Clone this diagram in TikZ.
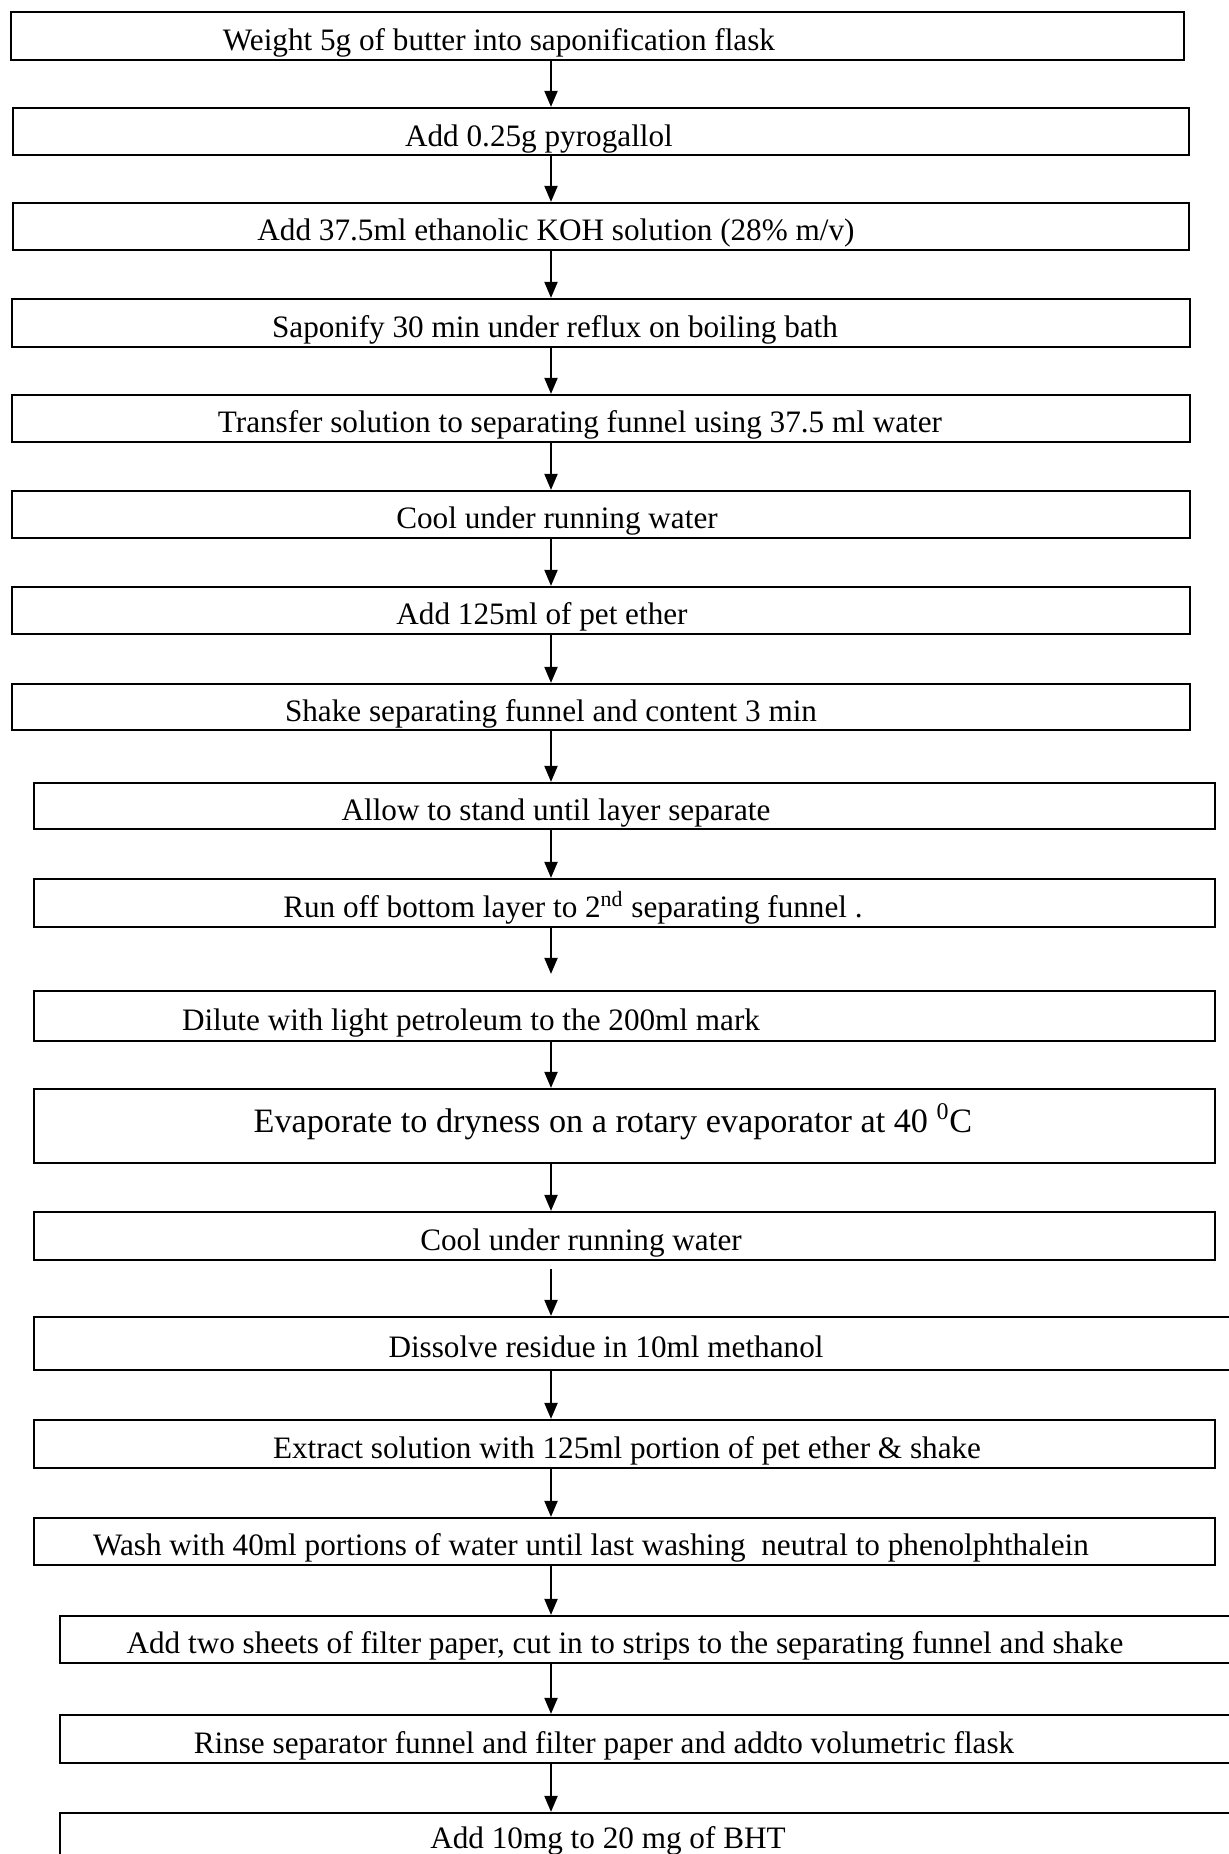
\documentclass[tikz,border=0pt]{standalone}
\usepackage{fontspec}
\setmainfont{Liberation Serif}
\usetikzlibrary{arrows.meta,fit}
\tikzset{
  stepbox/.style={draw, line width=1.1pt, inner sep=0pt},
  steptext/.style={anchor=base, inner sep=0pt, font=\fontsize{15.6}{18}\selectfont},
  bigtext/.style={anchor=base, inner sep=0pt, font=\fontsize{17.1}{20}\selectfont},
  flow/.style={line width=1pt, -{Triangle[length=8pt,width=6.5pt]}}
}
\begin{document}
\begin{tikzpicture}[x=0.5pt, y=-0.5pt]
\useasboundingbox (0,0) rectangle (1229,1854);
\clip (0,0) rectangle (1229,1854);
\fill[white] (0,0) rectangle (1229,1854);
\coordinate (ax) at (551,0);
\node[stepbox, fit={(11,12) (1184,60)}] (bx1) {};
\node[steptext] (tx1) at (499,50) {Weight 5g of butter into saponification flask};
\node[stepbox, fit={(13,108) (1189,155)}] (bx2) {};
\node[steptext] (tx2) at (539,146) {Add 0.25g pyrogallol};
\node[stepbox, fit={(13,203) (1189,250)}] (bx3) {};
\node[steptext] (tx3) at (556,240) {Add 37.5ml ethanolic KOH solution (28\% m/v)};
\node[stepbox, fit={(12,299) (1190,347)}] (bx4) {};
\node[steptext] (tx4) at (555,337) {Saponify 30 min under reflux on boiling bath};
\node[stepbox, fit={(12,395) (1190,442)}] (bx5) {};
\node[steptext] (tx5) at (580,432) {Transfer solution to separating funnel using 37.5 ml water};
\node[stepbox, fit={(12,491) (1190,538)}] (bx6) {};
\node[steptext] (tx6) at (557,528) {Cool under running water};
\node[stepbox, fit={(12,587) (1190,634)}] (bx7) {};
\node[steptext] (tx7) at (542,624) {Add 125ml of pet ether};
\node[stepbox, fit={(12,684) (1190,730)}] (bx8) {};
\node[steptext] (tx8) at (551,721) {Shake separating funnel and content 3 min};
\node[stepbox, fit={(34,783) (1215,829)}] (bx9) {};
\node[steptext] (tx9) at (556,820) {Allow to stand until layer separate};
\node[stepbox, fit={(34,879) (1215,927)}] (bx10) {};
\node[steptext] (tx10) at (573,917) {Run off bottom layer to 2\textsuperscript{nd} separating funnel .};
\node[stepbox, fit={(34,991) (1215,1041)}] (bx11) {};
\node[steptext] (tx11) at (471,1030) {Dilute with light petroleum to the 200ml mark};
\node[stepbox, fit={(34,1089) (1215,1163)}] (bx12) {};
\node[bigtext] (tx12) at (613,1132) {Evaporate to dryness on a rotary evaporator at 40 \textsuperscript{0}C};
\node[stepbox, fit={(34,1212) (1215,1260)}] (bx13) {};
\node[steptext] (tx13) at (581,1250) {Cool under running water};
\node[stepbox, fit={(34,1317) (1240,1370)}] (bx14) {};
\node[steptext] (tx14) at (606,1357) {Dissolve residue in 10ml methanol};
\node[stepbox, fit={(34,1420) (1215,1468)}] (bx15) {};
\node[steptext] (tx15) at (627,1458) {Extract solution with 125ml portion of pet ether \& shake};
\node[stepbox, fit={(34,1518) (1215,1565)}] (bx16) {};
\node[steptext] (tx16) at (591,1555) {Wash with 40ml portions of water until last washing \ neutral to phenolphthalein};
\node[stepbox, fit={(60,1616) (1240,1663)}] (bx17) {};
\node[steptext] (tx17) at (625,1653) {Add two sheets of filter paper, cut in to strips to the separating funnel and shake};
\node[stepbox, fit={(60,1715) (1240,1763)}] (bx18) {};
\node[steptext] (tx18) at (604,1753) {Rinse separator funnel and filter paper and addto volumetric flask};
\node[stepbox, fit={(60,1813) (1240,1875)}] (bx19) {};
\node[steptext] (tx19) at (608,1848) {Add 10mg to 20 mg of BHT};
\draw[flow] (ax |- bx1.south) -- (ax |- bx2.north);
\draw[flow] (ax |- bx2.south) -- (ax |- bx3.north);
\draw[flow] (ax |- bx3.south) -- (ax |- bx4.north);
\draw[flow] (ax |- bx4.south) -- (ax |- bx5.north);
\draw[flow] (ax |- bx5.south) -- (ax |- bx6.north);
\draw[flow] (ax |- bx6.south) -- (ax |- bx7.north);
\draw[flow] (ax |- bx7.south) -- (ax |- bx8.north);
\draw[flow] (ax |- bx8.south) -- (ax |- bx9.north);
\draw[flow] (ax |- bx9.south) -- (ax |- bx10.north);
\draw[flow, shorten >=8pt] (ax |- bx10.south) -- (ax |- bx11.north);
\draw[flow] (ax |- bx11.south) -- (ax |- bx12.north);
\draw[flow] (ax |- bx12.south) -- (ax |- bx13.north);
\draw[flow, shorten <=4pt] (ax |- bx13.south) -- (ax |- bx14.north);
\draw[flow] (ax |- bx14.south) -- (ax |- bx15.north);
\draw[flow] (ax |- bx15.south) -- (ax |- bx16.north);
\draw[flow] (ax |- bx16.south) -- (ax |- bx17.north);
\draw[flow] (ax |- bx17.south) -- (ax |- bx18.north);
\draw[flow] (ax |- bx18.south) -- (ax |- bx19.north);
\end{tikzpicture}
\end{document}
